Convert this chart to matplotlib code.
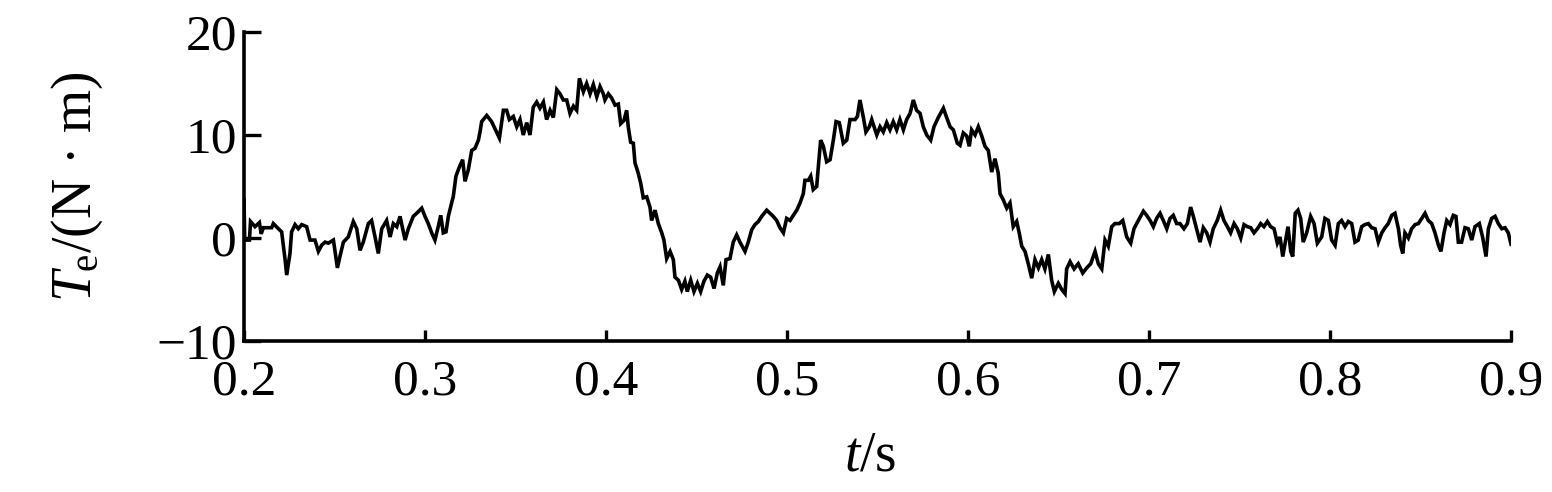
import matplotlib
matplotlib.use("Agg")
import matplotlib.pyplot as plt

# ---- data ----
time_s = [
    0.2000, 0.2004, 0.2030, 0.2036, 0.2061, 0.2085, 0.2095, 0.2107, 0.2153, 0.2162,
    0.2190, 0.2208, 0.2227, 0.2236, 0.2254, 0.2263, 0.2282, 0.2300, 0.2319, 0.2346,
    0.2365, 0.2392, 0.2411, 0.2429, 0.2448, 0.2466, 0.2494, 0.2516, 0.2530, 0.2549,
    0.2576, 0.2604, 0.2623, 0.2641, 0.2659, 0.2687, 0.2705, 0.2724, 0.2742, 0.2761,
    0.2788, 0.2807, 0.2825, 0.2844, 0.2862, 0.2890, 0.2908, 0.2935, 0.2954, 0.2982,
    0.3000, 0.3018, 0.3037, 0.3055, 0.3073, 0.3087, 0.3101, 0.3116, 0.3129, 0.3147,
    0.3156, 0.3171, 0.3190, 0.3208, 0.3221, 0.3239, 0.3258, 0.3276, 0.3295, 0.3304,
    0.3313, 0.3341, 0.3368, 0.3387, 0.3411, 0.3433, 0.3451, 0.3466, 0.3488, 0.3507,
    0.3525, 0.3543, 0.3562, 0.3580, 0.3598, 0.3617, 0.3635, 0.3654, 0.3672, 0.3691,
    0.3709, 0.3728, 0.3746, 0.3764, 0.3783, 0.3801, 0.3820, 0.3838, 0.3853, 0.3875,
    0.3893, 0.3912, 0.3930, 0.3949, 0.3967, 0.3985,
    0.3994, 0.4013, 0.4031, 0.4050, 0.4068, 0.4081, 0.4099, 0.4114, 0.4123, 0.4136,
    0.4151, 0.4160, 0.4178, 0.4192, 0.4206, 0.4225, 0.4243, 0.4252, 0.4271, 0.4289,
    0.4308, 0.4320, 0.4335, 0.4354, 0.4372, 0.4381, 0.4400, 0.4418, 0.4436, 0.4449,
    0.4468, 0.4486, 0.4505, 0.4523, 0.4541, 0.4560, 0.4578, 0.4597, 0.4615, 0.4630,
    0.4648, 0.4663, 0.4685, 0.4703, 0.4722, 0.4740, 0.4768, 0.4786, 0.4805, 0.4823,
    0.4842, 0.4860, 0.4888, 0.4906, 0.4924, 0.4943, 0.4961, 0.4980,
    0.4998, 0.5017, 0.5035, 0.5054, 0.5072, 0.5090, 0.5099, 0.5118, 0.5131, 0.5145,
    0.5164, 0.5173, 0.5186, 0.5201, 0.5219, 0.5238, 0.5256, 0.5271, 0.5289, 0.5311,
    0.5330, 0.5348, 0.5376, 0.5389, 0.5403, 0.5422, 0.5436, 0.5455, 0.5468, 0.5496,
    0.5514, 0.5532, 0.5551, 0.5569, 0.5587, 0.5606, 0.5624, 0.5643, 0.5661, 0.5680,
    0.5698, 0.5716, 0.5735, 0.5753, 0.5772, 0.5794, 0.5812, 0.5836, 0.5864, 0.5882,
    0.5901, 0.5919, 0.5941, 0.5956, 0.5974,
    0.5993, 0.6007, 0.6020, 0.6039, 0.6057, 0.6076, 0.6094, 0.6112, 0.6131, 0.6149,
    0.6167, 0.6177, 0.6195, 0.6214, 0.6232, 0.6250, 0.6269, 0.6283, 0.6297, 0.6315,
    0.6333, 0.6352, 0.6370, 0.6389, 0.6407, 0.6425, 0.6444, 0.6462, 0.6477, 0.6499,
    0.6518, 0.6536, 0.6545, 0.6564, 0.6586, 0.6609, 0.6634, 0.6656, 0.6678, 0.6702,
    0.6720, 0.6739, 0.6757, 0.6775, 0.6794, 0.6812, 0.6836, 0.6855, 0.6877, 0.6899,
    0.6917, 0.6941, 0.6969,
    0.6987, 0.7006, 0.7024, 0.7042, 0.7061, 0.7079, 0.7098, 0.7116, 0.7134, 0.7153,
    0.7171, 0.7193, 0.7212, 0.7230, 0.7245, 0.7263, 0.7282, 0.7300, 0.7319, 0.7337,
    0.7355, 0.7377, 0.7396, 0.7414, 0.7433, 0.7451, 0.7470, 0.7488, 0.7507, 0.7525,
    0.7543, 0.7562, 0.7580, 0.7599, 0.7617, 0.7635, 0.7654, 0.7672, 0.7691, 0.7709,
    0.7724, 0.7739, 0.7753, 0.7768, 0.7783, 0.7794, 0.7808, 0.7823, 0.7838, 0.7852,
    0.7871, 0.7893, 0.7912, 0.7930, 0.7954,
    0.7972, 0.7991, 0.8009, 0.8028, 0.8046, 0.8064, 0.8083, 0.8101, 0.8120, 0.8138,
    0.8156, 0.8175, 0.8193, 0.8212, 0.8230, 0.8249, 0.8267, 0.8286, 0.8304, 0.8322,
    0.8341, 0.8359, 0.8378, 0.8390, 0.8402, 0.8414, 0.8433, 0.8451, 0.8470, 0.8488,
    0.8507, 0.8525, 0.8543, 0.8562, 0.8580, 0.8599, 0.8613, 0.8630, 0.8645, 0.8663,
    0.8681, 0.8696, 0.8709, 0.8727, 0.8746, 0.8764, 0.8783, 0.8801, 0.8825, 0.8843,
    0.8862, 0.8875, 0.8893, 0.8912, 0.8930, 0.8949, 0.8967, 0.8985, 0.9000,
]

torque_nm = [
    3.7, -0.2, -0.2, 1.6, 1.1, 1.5, 0.4, 1.0, 1.0, 1.4,
    0.9, 0.6, -2.1, -3.6, -1.5, 0.6, 1.3, 0.9, 1.3, 1.1,
    -0.2, -0.2, -1.3, -0.7, -0.4, -0.5, -0.2, -2.9, -1.8, -0.4,
    0.1, 1.6, 0.9, -1.2, -0.4, 1.4, 1.7, 0.1, -1.5, 0.9,
    1.7, 0.1, 1.4, 1.1, 2.1, -0.2, 0.9, 2.1, 2.4, 2.9,
    2.1, 1.4, 0.5, -0.2, 1.1, 2.2, 0.5, 0.6, 2.1, 3.4,
    4.0, 6.0, 6.9, 7.6, 5.5, 6.6, 8.5, 8.7, 9.5, 10.3,
    11.3, 11.9, 11.3, 10.6, 9.7, 12.4, 12.4, 11.5, 11.8, 10.8,
    11.5, 10.0, 11.2, 10.0, 12.7, 13.2, 12.6, 13.2, 11.5, 12.4,
    11.7, 14.4, 14.0, 13.4, 13.4, 12.1, 12.8, 12.4, 15.5, 14.2,
    15.0, 14.0, 14.9, 13.7, 14.7, 14.0,
    13.4, 14.0, 13.6, 12.9, 13.0, 11.1, 11.4, 12.4, 10.8, 9.3,
    9.2, 7.3, 6.3, 5.3, 3.9, 4.0, 3.0, 1.7, 2.7, 1.4,
    0.5, -0.2, -2.0, -1.3, -2.1, -3.8, -4.1, -5.0, -4.2, -5.2,
    -4.1, -5.2, -4.4, -5.2, -4.2, -3.6, -3.8, -4.9, -3.4, -2.8,
    -4.6, -2.1, -2.0, -0.4, 0.3, -0.4, -1.3, -0.4, 0.8, 1.3,
    1.6, 2.1, 2.7, 2.4, 2.1, 1.7, 1.0, 0.5,
    1.9, 1.7, 2.2, 2.7, 3.4, 4.3, 5.6, 5.6, 6.0, 4.7,
    5.0, 6.9, 9.5, 8.9, 7.4, 7.6, 9.5, 11.3, 11.2, 9.2,
    9.5, 11.5, 11.5, 11.8, 13.4, 11.7, 10.3, 10.8, 11.5, 10.0,
    10.8, 10.3, 11.2, 10.5, 11.3, 10.5, 11.5, 10.5, 11.5, 12.1,
    13.4, 12.4, 12.1, 10.8, 10.0, 9.5, 10.8, 11.7, 12.6, 11.7,
    10.8, 10.5, 9.2, 9.0, 10.2,
    9.9, 8.9, 10.5, 10.0, 10.8, 9.9, 8.9, 8.5, 6.4, 7.7,
    6.3, 4.3, 3.7, 2.9, 3.4, 1.1, 1.6, 0.5, -0.8, -1.3,
    -2.5, -3.9, -2.1, -2.9, -2.1, -3.0, -1.6, -4.1, -5.2, -4.4,
    -5.0, -5.4, -3.0, -2.3, -3.0, -2.5, -3.4, -2.9, -2.5, -1.3,
    -2.5, -3.0, -0.2, -0.8, 1.1, 1.4, 1.4, 1.7, 0.1, -0.5,
    0.9, 1.7, 2.6,
    2.2, 1.7, 1.1, 1.9, 2.4, 1.7, 0.9, 1.9, 2.2, 1.4,
    1.4, 0.9, 1.4, 3.0, 2.1, 0.9, -0.4, 1.0, 0.5, -0.4,
    0.9, 1.7, 2.7, 1.7, 1.1, 0.5, 1.4, 0.9, 0.0, 1.3,
    1.1, 1.0, 0.5, 0.9, 1.4, 1.1, 1.6, 1.1, 0.9, -0.5,
    0.1, -1.8, -0.4, 1.1, -1.3, -1.8, 2.4, 2.7, 1.9, -0.4,
    0.5, 2.1, 1.4, -0.5, 0.1,
    1.9, 1.7, -0.2, -0.7, 1.4, 1.7, 1.1, 1.6, 1.4, -0.4,
    -0.2, 1.1, 1.3, 1.4, 1.0, 0.9, -0.4, 0.5, 1.0, 1.4,
    2.2, 2.4, 0.9, -0.7, -1.5, 0.5, 0.0, 0.9, 1.3, 1.4,
    1.9, 2.4, 1.7, 1.4, 0.5, -0.7, -1.3, 0.5, 1.7, 1.3,
    2.2, 2.1, -0.4, -0.4, 1.0, 0.9, -0.2, 1.1, 1.4, 0.1,
    -1.8, 0.9, 1.9, 2.1, 1.4, 0.9, 1.0, 0.5, -0.6,
]

x_ticks = [0.2, 0.3, 0.4, 0.5, 0.6, 0.7, 0.8, 0.9]
x_tick_labels = ["0.2", "0.3", "0.4", "0.5", "0.6", "0.7", "0.8", "0.9"]
y_ticks = [-10, 0, 10, 20]
y_tick_labels = ["\u221210", "0", "10", "20"]

# ---- style ----
plt.rcParams["font.family"] = ["Liberation Serif", "DejaVu Serif"]
plt.rcParams["mathtext.fontset"] = "custom"
plt.rcParams["mathtext.rm"] = "Liberation Serif"
plt.rcParams["mathtext.it"] = "Liberation Serif:italic"

fig = plt.figure(figsize=(15.52, 4.92), dpi=100)
ax = fig.add_axes([244 / 1552, 151 / 492, 1267 / 1552, 309 / 492])

ax.plot(time_s, torque_nm, color="black", linewidth=2.6, solid_joinstyle="miter")

ax.set_xlim(0.2, 0.9)
ax.set_ylim(-10, 20)
ax.set_xticks(x_ticks)
ax.set_xticklabels(x_tick_labels)
ax.set_yticks(y_ticks)
ax.set_yticklabels(y_tick_labels)

for side in ("top", "right"):
    ax.spines[side].set_visible(False)
for side in ("left", "bottom"):
    ax.spines[side].set_linewidth(2.6)
    ax.spines[side].set_color("black")

ax.tick_params(axis="x", direction="in", length=8, width=2.4, labelsize=37, pad=13)
ax.tick_params(axis="y", direction="in", length=12, width=2.4, labelsize=37, pad=5)

ax.set_xlabel("$t$/s", fontsize=40)
ax.xaxis.set_label_coords(0.494, -0.29)
ax.set_ylabel("$T_{\\mathrm{e}}$/(N \u00b7 m)", fontsize=40)
ax.yaxis.set_label_coords(-0.11, 0.5)

fig.savefig("out.png", dpi=100, facecolor="white")
